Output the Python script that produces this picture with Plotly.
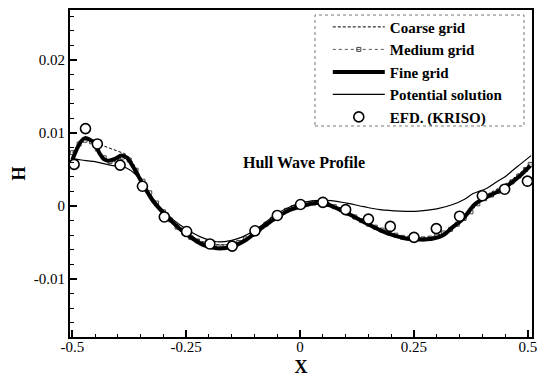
import plotly.graph_objects as go

# ---------------- data ----------------
fine_x = [-0.500, -0.490, -0.480, -0.472, -0.462, -0.450, -0.440, -0.430, -0.420, -0.405,
          -0.392, -0.380, -0.365, -0.348, -0.322, -0.293, -0.265, -0.240, -0.210, -0.183,
          -0.150, -0.120, -0.099, -0.075, -0.050, -0.025, 0.000, 0.036, 0.060, 0.080,
          0.110, 0.146, 0.175, 0.204, 0.235, 0.262, 0.290, 0.314, 0.337, 0.357,
          0.383, 0.409, 0.435, 0.460, 0.482, 0.505]
fine_y = [0.0063, 0.0078, 0.0089, 0.0093, 0.0091, 0.0085, 0.0072, 0.0064, 0.0062, 0.0065,
          0.0069, 0.0066, 0.0052, 0.0033, 0.0006, -0.0014, -0.0031, -0.0043, -0.0054, -0.0058,
          -0.0056, -0.0047, -0.0037, -0.0026, -0.0015, -0.0006, -0.0001, 0.0004, 0.0002, -0.0003,
          -0.0012, -0.0024, -0.0033, -0.0040, -0.0045, -0.0046, -0.0045, -0.0040, -0.0028, -0.0018,
          0.0002, 0.0012, 0.0020, 0.0030, 0.0041, 0.0055]

medium_x = [-0.500, -0.485, -0.472, -0.458, -0.445, -0.430, -0.417, -0.403, -0.390, -0.375,
            -0.360, -0.345, -0.330, -0.315, -0.300, -0.285, -0.270, -0.255, -0.240, -0.225,
            -0.210, -0.195, -0.180, -0.165, -0.150, -0.135, -0.120, -0.105, -0.090, -0.075,
            -0.060, -0.045, -0.030, -0.015, 0.000, 0.015, 0.030, 0.045, 0.060, 0.075,
            0.090, 0.105, 0.120, 0.135, 0.150, 0.165, 0.180, 0.195, 0.210, 0.225,
            0.240, 0.255, 0.270, 0.285, 0.300, 0.315, 0.330, 0.345, 0.360, 0.375,
            0.390, 0.405, 0.420, 0.435, 0.450, 0.465, 0.480, 0.495, 0.505]
medium_y = [0.0073, 0.0085, 0.0090, 0.0088, 0.0078, 0.0066, 0.0061, 0.0063, 0.0067, 0.0063,
            0.0049, 0.0034, 0.0018, 0.0004, -0.0008, -0.0019, -0.0029, -0.0037, -0.0043, -0.0048,
            -0.0052, -0.0055, -0.0056, -0.0056, -0.0054, -0.0050, -0.0045, -0.0039, -0.0032, -0.0025,
            -0.0018, -0.0012, -0.0006, -0.0002, 0.0000, 0.0003, 0.0004, 0.0004, 0.0002, -0.0001,
            -0.0005, -0.0010, -0.0015, -0.0020, -0.0025, -0.0029, -0.0033, -0.0037, -0.0040, -0.0043,
            -0.0044, -0.0045, -0.0045, -0.0044, -0.0041, -0.0037, -0.0032, -0.0025, -0.0017, -0.0008,
            0.0003, 0.0010, 0.0015, 0.0020, 0.0026, 0.0033, 0.0041, 0.0050, 0.0057]

coarse_x = [-0.500, -0.488, -0.472, -0.458, -0.446, -0.430, -0.417, -0.400, -0.381, -0.365,
            -0.348, -0.322, -0.293, -0.265, -0.240, -0.210, -0.183, -0.150, -0.120, -0.099,
            -0.075, -0.050, -0.025, 0.000, 0.036, 0.060, 0.080, 0.110, 0.146, 0.175,
            0.204, 0.235, 0.262, 0.290, 0.314, 0.337, 0.357, 0.383, 0.409, 0.435,
            0.460, 0.482, 0.507]
coarse_y = [0.0065, 0.0082, 0.0092, 0.0090, 0.0086, 0.0082, 0.0079, 0.0075, 0.0070, 0.0057,
            0.0037, 0.0009, -0.0012, -0.0028, -0.0040, -0.0050, -0.0053, -0.0052, -0.0045, -0.0036,
            -0.0025, -0.0014, -0.0005, 0.0000, 0.0005, 0.0003, -0.0002, -0.0010, -0.0022, -0.0031,
            -0.0038, -0.0043, -0.0044, -0.0042, -0.0037, -0.0026, -0.0015, 0.0004, 0.0015, 0.0024,
            0.0034, 0.0045, 0.0060]

potential_x = [-0.500, -0.480, -0.454, -0.417, -0.381, -0.359, -0.337, -0.308, -0.278, -0.249,
               -0.220, -0.183, -0.150, -0.125, -0.099, -0.075, -0.050, -0.025, 0.000, 0.050,
               0.102, 0.140, 0.175, 0.220, 0.260, 0.300, 0.335, 0.360, 0.380, 0.409,
               0.431, 0.450, 0.467, 0.485, 0.507]
potential_y = [0.0065, 0.0063, 0.0061, 0.0056, 0.0052, 0.0042, 0.0022, -0.0001, -0.0019, -0.0032,
               -0.0042, -0.0049, -0.0047, -0.0042, -0.0033, -0.0022, -0.0010, -0.0002, 0.0004, 0.0008,
               0.0004, -0.0001, -0.0005, -0.0007, -0.0007, -0.0004, 0.0002, 0.0009, 0.0017, 0.0024,
               0.0033, 0.0040, 0.0049, 0.0058, 0.0069]

efd_x = [-0.496, -0.471, -0.445, -0.395, -0.346, -0.298, -0.249, -0.198, -0.149, -0.099,
         -0.050, 0.001, 0.050, 0.100, 0.150, 0.198, 0.250, 0.299, 0.350, 0.400,
         0.449, 0.499]
efd_y = [0.0057, 0.0106, 0.0085, 0.0056, 0.0027, -0.0015, -0.0035, -0.0052, -0.0055, -0.0034,
         -0.0013, 0.0002, 0.0005, -0.0005, -0.0018, -0.0028, -0.0043, -0.0031, -0.0014, 0.0014,
         0.0023, 0.0034]

x_tick_vals = [-0.5, -0.25, 0, 0.25, 0.5]
x_tick_text = ["-0.5", "-0.25", "0", "0.25", "0.5"]
y_tick_vals = [-0.01, 0, 0.01, 0.02]
y_tick_text = ["-0.01", "0", "0.01", "0.02"]

FONT = "Liberation Serif, Times New Roman, serif"

fig = go.Figure()
fig.add_trace(go.Scatter(x=coarse_x, y=coarse_y, mode="lines", name="<b>Coarse grid</b>",
                         line=dict(color="black", width=1, dash="3px,2px", shape="spline")))
fig.add_trace(go.Scatter(x=medium_x, y=medium_y, mode="lines+markers", name="<b>Medium grid</b>",
                         line=dict(color="#555555", width=1, dash="dot", shape="spline"),
                         marker=dict(symbol="square-open", size=4, color="#444444",
                                     line=dict(width=1))))
fig.add_trace(go.Scatter(x=fine_x, y=fine_y, mode="lines", name="<b>Fine grid</b>",
                         line=dict(color="black", width=4, shape="spline")))
fig.add_trace(go.Scatter(x=potential_x, y=potential_y, mode="lines", name="<b>Potential solution</b>",
                         line=dict(color="black", width=1.2, shape="spline")))
fig.add_trace(go.Scatter(x=efd_x, y=efd_y, mode="markers", name="<b>EFD. (KRISO)</b>",
                         marker=dict(symbol="circle", size=10, color="white",
                                     line=dict(color="black", width=1.6))))

fig.add_annotation(x=0.008, y=0.0059, xref="x", yref="y", text="<b>Hull Wave Profile</b>",
                   showarrow=False, font=dict(family=FONT, size=16, color="black"))

# dashed legend frame
fig.add_shape(type="rect", xref="paper", yref="paper", x0=0.5303, x1=0.9827, y0=0.6453, y1=0.9847,
              line=dict(color="#777777", width=1, dash="dot"), layer="above")

axis_common = dict(showgrid=False, zeroline=False, showline=True, linecolor="black", linewidth=2,
                   mirror=True, ticks="inside", tickcolor="black", tickwidth=2, ticklen=7,
                   automargin=False,
                   tickfont=dict(family=FONT, size=15, color="black"))

fig.update_layout(
    width=547, height=377,
    margin=dict(l=70, r=15, t=10, b=40),
    paper_bgcolor="white", plot_bgcolor="white",
    font=dict(family=FONT, color="black"),
    xaxis=dict(range=[-0.505, 0.509], tickmode="array", tickvals=x_tick_vals, ticktext=x_tick_text,
               ticklabelstandoff=-5,
               minor=dict(dtick=0.05, tick0=0, ticks="inside", ticklen=3.5, tickwidth=1, tickcolor="black"),
               title=dict(text="<b>X</b>", font=dict(family=FONT, size=18, color="black"), standoff=8),
               **axis_common),
    yaxis=dict(range=[-0.01795, 0.02685], tickmode="array", tickvals=y_tick_vals, ticktext=y_tick_text,
               minor=dict(dtick=0.002, tick0=0, ticks="inside", ticklen=3.5, tickwidth=1, tickcolor="black"),
               title=dict(text="<b>H</b>", font=dict(family=FONT, size=18, color="black"), standoff=3),
               **axis_common),
    legend=dict(x=0.558, y=0.998, xanchor="left", yanchor="top", bgcolor="rgba(0,0,0,0)",
                borderwidth=0, font=dict(family=FONT, size=15, color="black"),
                itemwidth=52, tracegroupgap=0),
    showlegend=True,
)

fig.write_html("out.html")
